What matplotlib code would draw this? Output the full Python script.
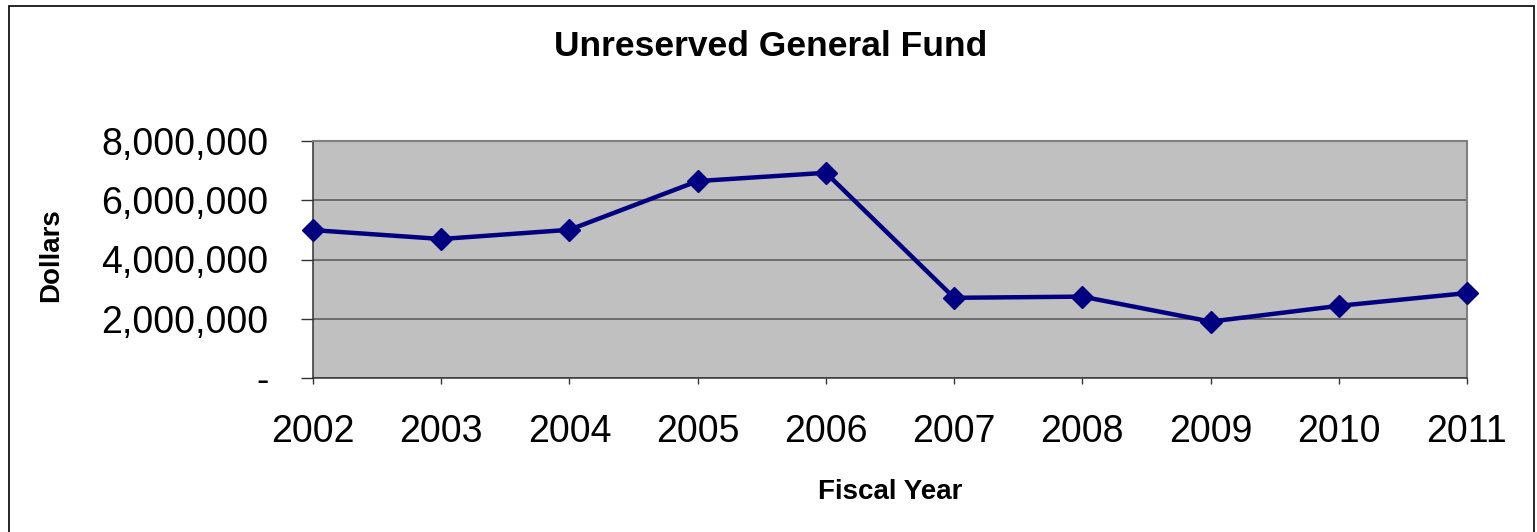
import matplotlib.pyplot as plt
from matplotlib.patches import Rectangle
from matplotlib.ticker import FuncFormatter

years = ['2002', '2003', '2004', '2005', '2006',
         '2007', '2008', '2009', '2010', '2011']
fund = [4990000, 4690000, 5000000, 6640000, 6920000,
        2710000, 2750000, 1910000, 2440000, 2870000]
y_ticks = [0, 2000000, 4000000, 6000000, 8000000]

plt.rcParams['font.family'] = ['Liberation Sans', 'DejaVu Sans']

fig = plt.figure(figsize=(15.37, 5.32), dpi=100)
fig.patch.set_facecolor('white')

# outer chart border (bottom edge falls off the page)
fig.patches.append(Rectangle((9 / 1537, -0.05), (1534 - 9) / 1537, 1.05 - 6 / 532,
                             transform=fig.transFigure, fill=False,
                             edgecolor='black', linewidth=1.2))

ax = fig.add_axes([313 / 1537, 1 - 378.3 / 532, (1467 - 313) / 1537, (378.3 - 140.7) / 532])
ax.set_facecolor('#c0c0c0')

x = list(range(len(years)))
ax.plot(x, fund, color='#000080', linewidth=3.2, marker='D', markersize=11,
        markerfacecolor='#000080', markeredgecolor='#000080', zorder=3,
        clip_on=False)

ax.set_xlim(0, len(years) - 1)
ax.set_ylim(0, 8000000)
ax.set_xticks(x)
ax.set_xticklabels(years)
ax.set_yticks(y_ticks)
ax.yaxis.set_major_formatter(FuncFormatter(lambda v, p: '-' if v == 0 else f'{int(v):,}'))

ax.grid(axis='y', color='#555555', linewidth=1.1)
ax.set_axisbelow(True)

for side in ['top', 'right']:
    ax.spines[side].set_color('#808080')
    ax.spines[side].set_linewidth(1.5)
for side in ['left', 'bottom']:
    ax.spines[side].set_color('#333333')
    ax.spines[side].set_linewidth(1.1)

ax.tick_params(axis='y', direction='out', length=9, width=1, color='#333333',
               labelsize=27, pad=23)
ax.tick_params(axis='x', direction='out', length=4, width=1, color='#333333',
               labelsize=27, pad=22)

fig.text(771 / 1537, 1 - 47 / 532, 'Unreserved General Fund', ha='center', va='center',
         fontsize=25.5, fontweight='bold')
fig.text(890 / 1537, 1 - 492 / 532, 'Fiscal Year', ha='center', va='center',
         fontsize=20, fontweight='bold')
fig.text(51 / 1537, 1 - 255 / 532, 'Dollars', ha='center', va='center',
         fontsize=20, fontweight='bold', rotation=90)

fig.savefig('out.png', dpi=100)
